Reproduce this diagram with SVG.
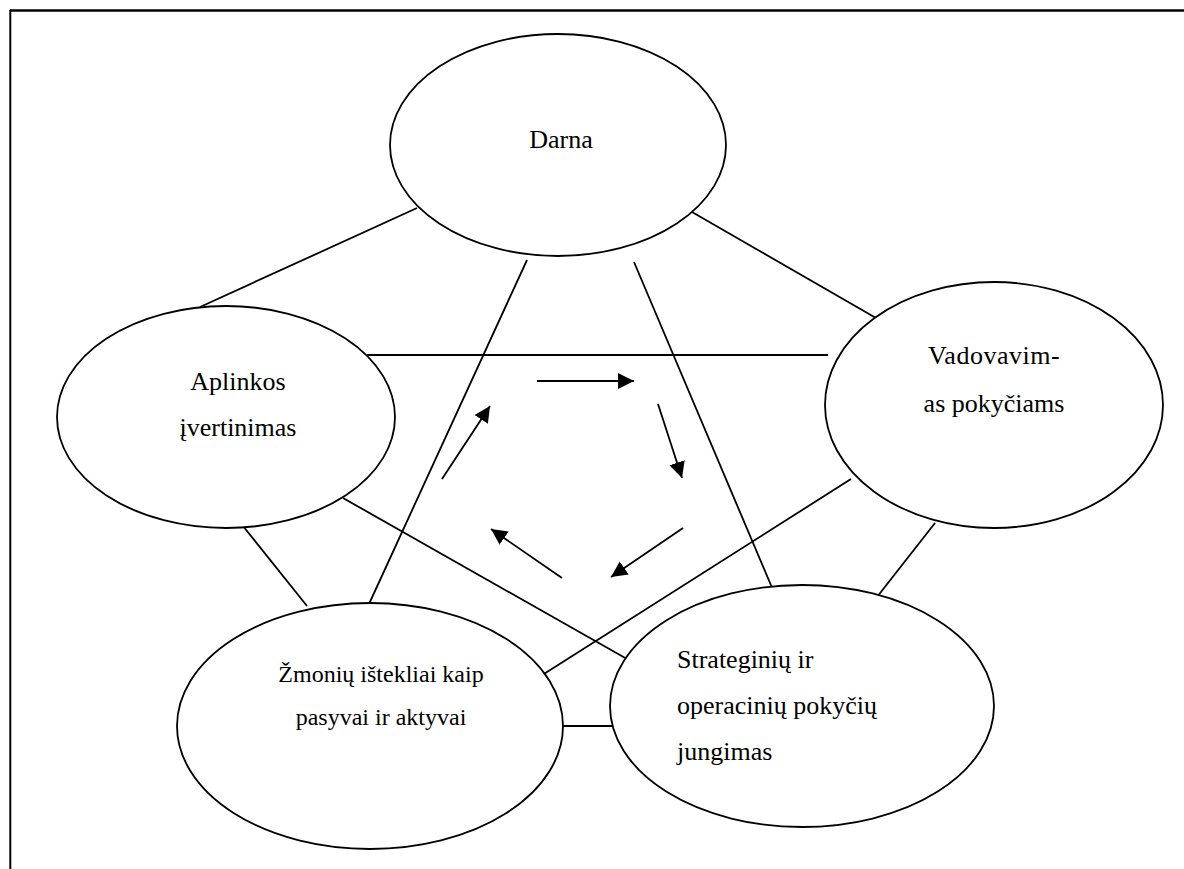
<svg xmlns="http://www.w3.org/2000/svg" width="1184" height="869" viewBox="0 0 1184 869">
<style>
.node{fill:#fff;stroke:#000;stroke-width:1.8}
.t{font-family:"Liberation Serif","Times New Roman",serif;font-size:26px;fill:#000}
.c{text-anchor:middle}
.ln{stroke:#000;stroke-width:1.8;fill:none}
.ar{stroke:#000;stroke-width:1.8;fill:none;marker-end:url(#ah)}
</style>
<defs>
<marker id="ah" markerUnits="userSpaceOnUse" markerWidth="18" markerHeight="18" refX="16" refY="8" orient="auto">
<path d="M0,0 L16,8 L0,16 z" fill="#000"/>
</marker>
</defs>
<rect width="1184" height="869" fill="#fff"/>
<g id="frame">
<line x1="10" y1="10.5" x2="1184" y2="10.5" stroke="#000" stroke-width="2.5"/>
<line x1="10.3" y1="10" x2="10.3" y2="869" stroke="#000" stroke-width="2"/>
</g>
<g id="connectors">
<line class="ln" x1="417" y1="208" x2="200" y2="307"/>
<line class="ln" x1="692" y1="212" x2="876" y2="318"/>
<line class="ln" x1="527" y1="260" x2="369" y2="604"/>
<line class="ln" x1="634" y1="262" x2="773" y2="590"/>
<line class="ln" x1="367" y1="355" x2="828" y2="355"/>
<line class="ln" x1="243" y1="526" x2="307" y2="606"/>
<line class="ln" x1="343" y1="498" x2="627" y2="659"/>
<line class="ln" x1="851" y1="479" x2="536" y2="679"/>
<line class="ln" x1="935" y1="523" x2="877" y2="597"/>
<line class="ln" x1="563" y1="726" x2="613" y2="726"/>
<line class="ar" x1="537" y1="381" x2="634" y2="381"/>
<line class="ar" x1="658" y1="404" x2="682" y2="478"/>
<line class="ar" x1="683" y1="528" x2="611" y2="577"/>
<line class="ar" x1="562" y1="578" x2="491" y2="529"/>
<line class="ar" x1="442" y1="479" x2="490" y2="406"/>
</g>
<g id="darna">
<ellipse class="node" cx="558" cy="145" rx="168" ry="111"/>
<text class="t c" x="561" y="148">Darna</text>
</g>
<g id="aplinkos">
<ellipse class="node" cx="226" cy="417" rx="169" ry="111"/>
<text class="t c" x="238" y="390">Aplinkos</text>
<text class="t c" x="238" y="436">įvertinimas</text>
</g>
<g id="vadovavimas">
<ellipse class="node" cx="994" cy="405" rx="169" ry="123"/>
<text class="t c" x="994" y="364" letter-spacing="0.5">Vadovavim-</text>
<text class="t c" x="994" y="412">as pokyčiams</text>
</g>
<g id="zmoniu">
<ellipse class="node" cx="370" cy="726" rx="193" ry="123"/>
<text class="t c" x="381" y="682" style="font-size:24px">Žmonių ištekliai kaip</text>
<text class="t c" x="381" y="725" style="font-size:24px">pasyvai ir aktyvai</text>
</g>
<g id="strateginiu">
<ellipse class="node" cx="802" cy="706" rx="192" ry="121"/>
<text class="t" x="677" y="668">Strateginių ir</text>
<text class="t" x="677" y="714">operacinių pokyčių</text>
<text class="t" x="677" y="760">jungimas</text>
</g>
</svg>
